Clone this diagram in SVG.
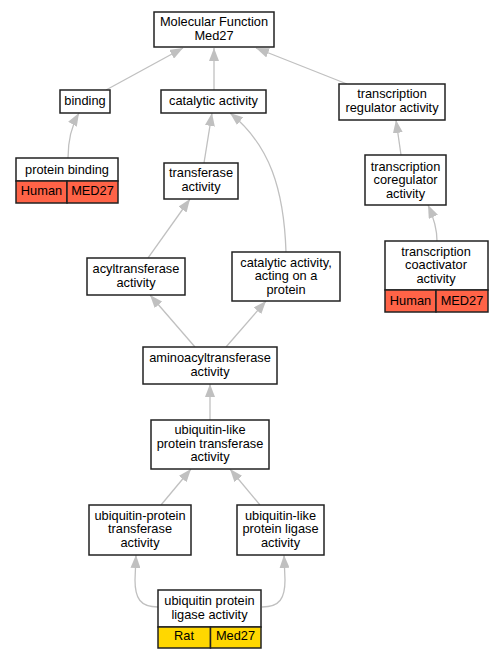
<svg xmlns="http://www.w3.org/2000/svg" width="503" height="659" viewBox="0 0 503 659">
<defs>
<marker id="ah" markerWidth="13" markerHeight="10" refX="13" refY="5" orient="auto" markerUnits="userSpaceOnUse">
<path d="M0,0 L13,5 L0,10 Z" fill="#c0c0c0"/>
</marker>
<style>
.box{fill:#fff;stroke:#222;stroke-width:1.5}
.hum{fill:#ff6347;stroke:#222;stroke-width:1.5}
.rat{fill:#ffd700;stroke:#222;stroke-width:1.5}
.e{fill:none;stroke:#c0c0c0;stroke-width:1.3;marker-end:url(#ah)}
text{font-family:"Liberation Sans",Arial,sans-serif;font-size:12.8px;text-anchor:middle;fill:#000}
</style>
</defs>
<rect width="503" height="659" fill="#fff"/>
<g id="edges">
<path class="e" d="M106,90 L183,48"/>
<path class="e" d="M214,90 L214,48"/>
<path class="e" d="M347,84 L256,48"/>
<path class="e" d="M68,158 C68,140 72,125 79,113"/>
<path class="e" d="M204,163 L212,113"/>
<path class="e" d="M286,252 C284,190 270,145 230,113"/>
<path class="e" d="M401,155 L396,120"/>
<path class="e" d="M437,241 C437,228 433,216 428,205"/>
<path class="e" d="M148,258 L190,199"/>
<path class="e" d="M195,347 L150,295"/>
<path class="e" d="M226,347 L266,301"/>
<path class="e" d="M210,420 L210,384"/>
<path class="e" d="M161,505 L191,469"/>
<path class="e" d="M260,505 L230,469"/>
<path class="e" d="M158,607 C140,607 135,598 135,580 L136,555"/>
<path class="e" d="M262,607 C280,607 285,598 285,580 L284,555"/>
</g>
<g id="mf">
<rect class="box" x="154" y="12" width="120" height="35"/>
<text x="214" y="26">Molecular Function</text>
<text x="214" y="39.5">Med27</text>
</g>
<g id="binding">
<rect class="box" x="60" y="90" width="50" height="23"/>
<text x="85" y="105">binding</text>
</g>
<g id="catalytic">
<rect class="box" x="161" y="90" width="105" height="23"/>
<text x="213.5" y="105">catalytic activity</text>
</g>
<g id="treg">
<rect class="box" x="339" y="84" width="106" height="36"/>
<text x="392" y="98">transcription</text>
<text x="392" y="111.5">regulator activity</text>
</g>
<g id="pbinding">
<rect class="box" x="16" y="158" width="102" height="23"/>
<rect class="hum" x="16" y="181" width="51" height="22"/>
<rect class="hum" x="67" y="181" width="51" height="22"/>
<text x="67" y="173.5">protein binding</text>
<text x="41.5" y="195">Human</text>
<text x="92.5" y="195">MED27</text>
</g>
<g id="transferase">
<rect class="box" x="164" y="163" width="74" height="36"/>
<text x="201" y="177">transferase</text>
<text x="201" y="190.5">activity</text>
</g>
<g id="tcoreg">
<rect class="box" x="365" y="155" width="81" height="50"/>
<text x="405.5" y="170.5">transcription</text>
<text x="405.5" y="184">coregulator</text>
<text x="405.5" y="197.5">activity</text>
</g>
<g id="acyl">
<rect class="box" x="87" y="258" width="98" height="37"/>
<text x="136" y="273">acyltransferase</text>
<text x="136" y="286.5">activity</text>
</g>
<g id="catprot">
<rect class="box" x="232" y="252" width="108" height="49"/>
<text x="286" y="266.5">catalytic activity,</text>
<text x="286" y="280">acting on a</text>
<text x="286" y="293.5">protein</text>
</g>
<g id="tcoact">
<rect class="box" x="385" y="241" width="103" height="49"/>
<rect class="hum" x="385" y="290" width="51" height="22"/>
<rect class="hum" x="436" y="290" width="52" height="22"/>
<text x="436" y="255.5">transcription</text>
<text x="436" y="269">coactivator</text>
<text x="436" y="282.5">activity</text>
<text x="410.5" y="304.5">Human</text>
<text x="462" y="304.5">MED27</text>
</g>
<g id="aminoacyl">
<rect class="box" x="143" y="347" width="134" height="37"/>
<text x="210" y="362">aminoacyltransferase</text>
<text x="210" y="375.5">activity</text>
</g>
<g id="ubltrans">
<rect class="box" x="151" y="420" width="118" height="49"/>
<text x="210" y="434">ubiquitin-like</text>
<text x="210" y="447.5">protein transferase</text>
<text x="210" y="461">activity</text>
</g>
<g id="ubptrans">
<rect class="box" x="89" y="505" width="102" height="50"/>
<text x="140" y="519.5">ubiquitin-protein</text>
<text x="140" y="533">transferase</text>
<text x="140" y="546.5">activity</text>
</g>
<g id="ublligase">
<rect class="box" x="237" y="505" width="87" height="50"/>
<text x="280.5" y="519.5">ubiquitin-like</text>
<text x="280.5" y="533">protein ligase</text>
<text x="280.5" y="546.5">activity</text>
</g>
<g id="ubpligase">
<rect class="box" x="158" y="590" width="103" height="37"/>
<rect class="rat" x="158" y="627" width="52.5" height="21"/>
<rect class="rat" x="210.5" y="627" width="50.5" height="21"/>
<text x="209.5" y="605">ubiquitin protein</text>
<text x="209.5" y="618.5">ligase activity</text>
<text x="184" y="640">Rat</text>
<text x="235.5" y="640">Med27</text>
</g>
</svg>
